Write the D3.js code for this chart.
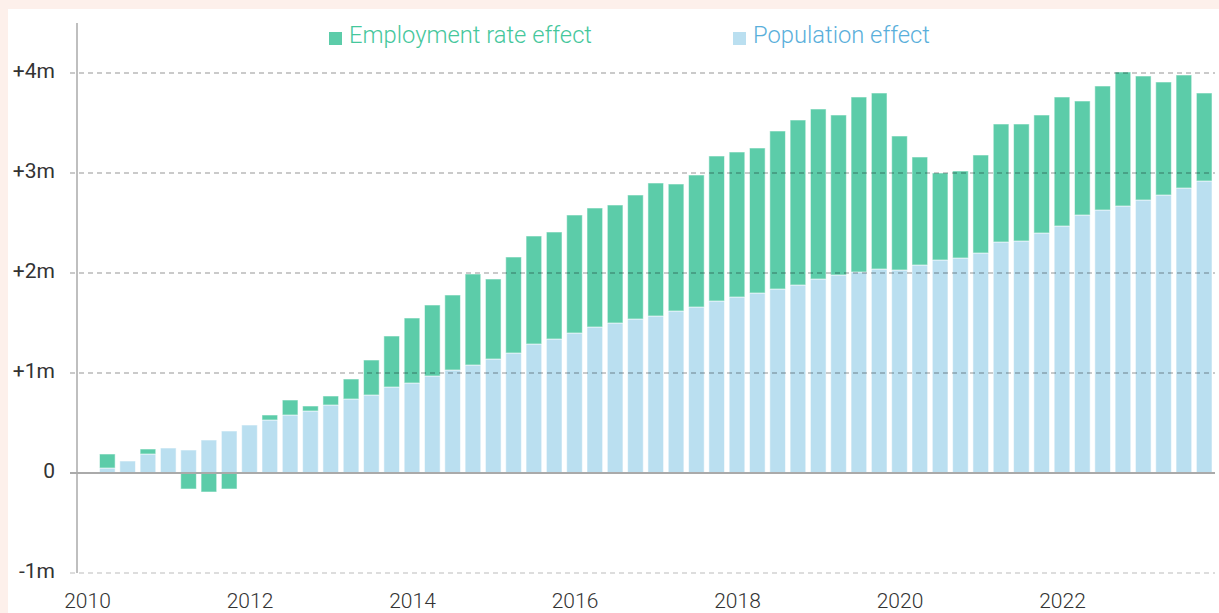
<!DOCTYPE html>
<html>
<head>
<meta charset="utf-8">
<script src="https://cdn.jsdelivr.net/npm/d3@7"></script>
<style>
  body { margin: 0; background: #fdf0eb; }
  .panel { position: absolute; left: 8px; top: 9px; width: 1211px; height: 604px; background: #fff; }
  svg { position: absolute; left: 0; top: 0; }
  text { font-family: Roboto, "Noto Sans", sans-serif; }
</style>
</head>
<body>
<div class="panel"></div>
<svg id="chart"></svg>
<script>
const width = 1219;
const height = 613;

// quarters 2010 Q2 .. 2023 Q4
const quarters = [];
for (let y = 2010; y <= 2023; y++) {
  for (let q = 1; q <= 4; q++) {
    if (y === 2010 && q === 1) continue;
    quarters.push(`${y} Q${q}`);
  }
}

// millions
const populationEffect = [
  0.05, 0.12, 0.19, 0.25, 0.23, 0.33, 0.42, 0.48,
  0.53, 0.58, 0.62, 0.68, 0.74, 0.78, 0.86, 0.90,
  0.97, 1.03, 1.08, 1.14, 1.20, 1.29, 1.34, 1.40,
  1.46, 1.50, 1.54, 1.57, 1.62, 1.66, 1.72, 1.76,
  1.80, 1.84, 1.88, 1.94, 1.98, 2.01, 2.04, 2.03,
  2.08, 2.13, 2.15, 2.20, 2.31, 2.32, 2.40, 2.47,
  2.58, 2.63, 2.67, 2.73, 2.78, 2.85, 2.92
];
const employmentEffect = [
  0.14, 0.00, 0.05, 0.00, -0.16, -0.19, -0.16, 0.00,
  0.05, 0.15, 0.05, 0.09, 0.20, 0.35, 0.51, 0.65,
  0.71, 0.75, 0.91, 0.80, 0.96, 1.08, 1.07, 1.18,
  1.19, 1.18, 1.24, 1.33, 1.27, 1.32, 1.45, 1.45,
  1.45, 1.58, 1.65, 1.70, 1.60, 1.75, 1.76, 1.34,
  1.08, 0.87, 0.87, 0.98, 1.18, 1.17, 1.18, 1.29,
  1.14, 1.24, 1.34, 1.24, 1.13, 1.13, 0.88
];

const yTicks = [-1, 1, 2, 3, 4];
const xTicks = [2010, 2012, 2014, 2016, 2018, 2020, 2022];

const keys = ['population', 'employment'];
const colors = { population: '#badff0', employment: '#5ccca9' };
const legendLabels = [
  { key: 'employment', label: 'Employment rate effect', text: '#45c79c', x: 329, w: 243 },
  { key: 'population', label: 'Population effect', text: '#5aafdb', x: 733, w: 177 }
];

const rows = quarters.map((q, i) => ({
  t: +q.slice(0, 4) + (+q.slice(6) - 1) / 4,
  population: populationEffect[i],
  employment: employmentEffect[i]
}));

const svg = d3.select('#chart')
  .attr('width', width)
  .attr('height', height);

const x = d3.scaleLinear().domain([2010, 2022]).range([87, 1062]);
const y = d3.scaleLinear().domain([-1, 4]).range([573, 73]);
const barWidth = (x(2011) - x(2010)) / 4 * 0.77;

const series = d3.stack()
  .keys(keys)
  .offset(d3.stackOffsetDiverging)(rows);

svg.append('g')
  .selectAll('g')
  .data(series)
  .join('g')
  .attr('fill', d => colors[d.key])
  .selectAll('rect')
  .data(d => d)
  .join('rect')
  .attr('x', d => x(d.data.t) - barWidth / 2)
  .attr('y', d => y(Math.max(d[0], d[1])))
  .attr('width', barWidth)
  .attr('height', d => Math.abs(y(d[0]) - y(d[1])))
  .attr('stroke', '#fff')
  .attr('stroke-opacity', 0.55)
  .attr('stroke-width', 1);

// gridlines (drawn over the bars)
svg.append('g')
  .selectAll('line')
  .data(yTicks)
  .join('line')
  .attr('x1', 70)
  .attr('x2', 1215)
  .attr('y1', d => y(d))
  .attr('y2', d => y(d))
  .attr('stroke', '#000')
  .attr('stroke-opacity', d => d < 0 ? 0.18 : 0.28)
  .attr('stroke-width', 1.5)
  .attr('stroke-dasharray', '5,4');

// zero line
svg.append('line')
  .attr('x1', 70)
  .attr('x2', 1215)
  .attr('y1', y(0))
  .attr('y2', y(0))
  .attr('stroke', '#aaa')
  .attr('stroke-width', 2);

// vertical axis line
svg.append('line')
  .attr('x1', 77)
  .attr('x2', 77)
  .attr('y1', 23)
  .attr('y2', y(-1))
  .attr('stroke', '#aaa')
  .attr('stroke-width', 1.5);

const yAxis = d3.axisLeft(y)
  .tickValues([-1, 0, 1, 2, 3, 4])
  .tickFormat(d => d > 0 ? `+${d}m` : d < 0 ? `${d}m` : '0')
  .tickSize(0)
  .tickPadding(22);

svg.append('g')
  .attr('transform', 'translate(77,0)')
  .call(yAxis)
  .call(g => g.select('.domain').remove())
  .selectAll('text')
  .attr('dy', '0.22em')
  .attr('font-family', 'Roboto, sans-serif')
  .attr('font-size', 21)
  .attr('font-weight', 400)
  .attr('fill', '#333');

const xAxis = d3.axisBottom(x)
  .tickValues(xTicks)
  .tickFormat(d3.format('d'))
  .tickSize(0);

svg.append('g')
  .attr('transform', `translate(0,${y(-1)})`)
  .call(xAxis)
  .call(g => g.select('.domain').remove())
  .selectAll('text')
  .attr('y', 35)
  .attr('dy', 0)
  .attr('font-family', 'Roboto, sans-serif')
  .attr('font-size', 21)
  .attr('font-weight', 300)
  .attr('fill', '#333');

// legend
const legend = svg.append('g')
  .selectAll('g')
  .data(legendLabels)
  .join('g')
  .attr('transform', d => `translate(${d.x},32)`);

legend.append('rect')
  .attr('width', 13)
  .attr('height', 13)
  .attr('fill', d => colors[d.key]);

legend.append('text')
  .attr('x', 20)
  .attr('y', 11)
  .attr('font-size', 23)
  .attr('font-weight', 300)
  .attr('textLength', d => d.w)
  .attr('lengthAdjust', 'spacingAndGlyphs')
  .attr('fill', d => d.text)
  .text(d => d.label);
</script>
</body>
</html>
